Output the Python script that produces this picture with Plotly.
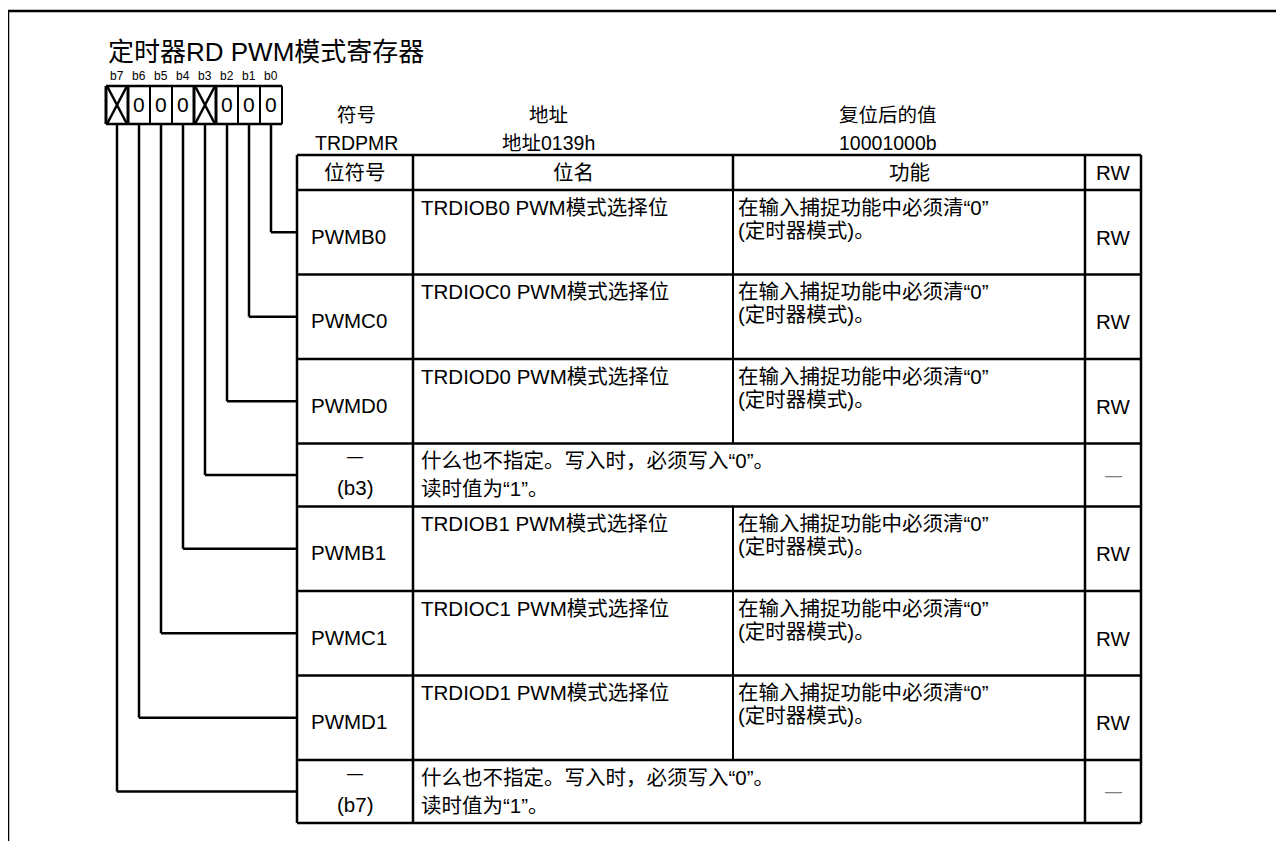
import plotly.graph_objects as go

# ---------------- data ----------------
title = "定时器RD PWM模式寄存器"
bit_labels = ["b7", "b6", "b5", "b4", "b3", "b2", "b1", "b0"]
bit_values = ["X", "0", "0", "0", "X", "0", "0", "0"]

symbol_label, symbol_value = "符号", "TRDPMR"
address_label, address_value = "地址", "地址0139h"
reset_label, reset_value = "复位后的值", "10001000b"

headers = ["位符号", "位名", "功能", "RW"]
row_bits = ["b0", "b1", "b2", "b3", "b4", "b5", "b6", "b7"]
row_symbols = ["PWMB0", "PWMC0", "PWMD0", "—", "PWMB1", "PWMC1", "PWMD1", "—"]
row_reserved = [False, False, False, True, False, False, False, True]
row_names = ["TRDIOB0 PWM模式选择位", "TRDIOC0 PWM模式选择位", "TRDIOD0 PWM模式选择位",
             "什么也不指定。写入时，必须写入“0”。", "TRDIOB1 PWM模式选择位",
             "TRDIOC1 PWM模式选择位", "TRDIOD1 PWM模式选择位",
             "什么也不指定。写入时，必须写入“0”。"]
row_functions = ["在输入捕捉功能中必须清“0”<br>(定时器模式)。"] * 3 + ["读时值为“1”。"] + \
                ["在输入捕捉功能中必须清“0”<br>(定时器模式)。"] * 3 + ["读时值为“1”。"]
row_rw = ["RW", "RW", "RW", "—", "RW", "RW", "RW", "—"]

# ---------------- layout constants ----------------
W, H = 1284, 841
OFF = 8  # page body margin
FONT = "Liberation Sans, Arial, Noto Sans CJK SC, sans-serif"
BLACK = "#000000"

box_x0, box_y0, box_y1, cell_w = 106, 86, 124, 22
col_x = [297, 413, 733, 1085, 1141]
table_top, header_bottom = 155, 190
normal_h, reserved_h = 84.5, 63
TS = 20.5

shapes = []
ann = []


def line(x0, y0, x1, y1, w=2, color=BLACK):
    shapes.append(dict(type="line", x0=x0, y0=y0, x1=x1, y1=y1,
                       line=dict(color=color, width=w), layer="above"))


def text(x, y, s, size=TS, xanchor="center", yanchor="middle", color=BLACK):
    ann.append(dict(x=x, y=y, text=s, showarrow=False, xanchor=xanchor, yanchor=yanchor,
                    align="left", font=dict(family=FONT, size=size, color=color)))


# outer frame
line(8, 11, 8, H + OFF, w=2.5)
line(8, 11, W + OFF, 11, w=2.5)

# title
text(106, 52, title, size=26, xanchor="left")

# bit box
n = len(bit_values)
for i, (lab, val) in enumerate(zip(bit_labels, bit_values)):
    cx = box_x0 + cell_w * i + cell_w / 2
    text(cx, 76, lab, size=12)
    x0 = box_x0 + cell_w * i
    if val == "X":
        line(x0 + 1, box_y0, x0 + cell_w - 1, box_y1, w=2.5)
        line(x0 + 1, box_y1, x0 + cell_w - 1, box_y0, w=2.5)
        line(x0, box_y0, x0, box_y1, w=3)
        line(x0 + cell_w, box_y0, x0 + cell_w, box_y1, w=3)
    else:
        text(cx, (box_y0 + box_y1) / 2 - 1, val, size=21)
        line(x0, box_y0, x0, box_y1, w=2)
line(box_x0, box_y0, box_x0 + cell_w * n, box_y0, w=2.5)
line(box_x0, box_y1, box_x0 + cell_w * n, box_y1, w=2.5)
line(box_x0 + cell_w * n, box_y0, box_x0 + cell_w * n, box_y1, w=2)

# register info
IS = 19.5
text(356, 115, symbol_label, size=IS)
text(356, 143, symbol_value, size=IS)
text(548, 115, address_label, size=IS)
text(548, 143, address_value, size=IS)
text(888, 115, reset_label, size=IS)
text(888, 143, reset_value, size=IS)

# table header
for j, h in enumerate(headers):
    text((col_x[j] + col_x[j + 1]) / 2, 172, h)

# rows
y = header_bottom
row_edges = [y]
for k in range(len(row_symbols)):
    rh = reserved_h if row_reserved[k] else normal_h
    top, bot = y, y + rh
    mid = (top + bot) / 2
    if row_reserved[k]:
        text(355, top + 13, row_symbols[k], size=16)
        text(355, top + 44, "(" + row_bits[k] + ")")
        text(col_x[1] + 6, top + 17, row_names[k], xanchor="left")
        text(col_x[1] + 6, top + 45, row_functions[k], xanchor="left")
        text((col_x[3] + col_x[4]) / 2, mid, row_rw[k], color="#7f7f7f", size=17)
    else:
        text(309, mid + 4, row_symbols[k], xanchor="left")
        text(col_x[1] + 6, top + 17, row_names[k], xanchor="left")
        for li, part in enumerate(row_functions[k].split("<br>")):
            text(col_x[2] + 3, top + 17 + 23 * li, part, xanchor="left")
        text((col_x[3] + col_x[4]) / 2, mid + 5, row_rw[k])
        line(col_x[2], top, col_x[2], bot)
    # leader line from bit box
    bit_index = bit_labels.index(row_bits[k])
    bx = box_x0 + cell_w * bit_index + cell_w / 2
    line(bx, box_y1, bx, mid, w=2.5)
    line(bx, mid, col_x[0], mid, w=2.5)
    y = bot
    row_edges.append(y)

table_bottom = y
# table grid
line(col_x[0], table_top, col_x[-1], table_top, w=2.5)
for e in row_edges:
    line(col_x[0], e, col_x[-1], e, w=2.5)
for j in [0, 1, 3, 4]:
    line(col_x[j], table_top, col_x[j], table_bottom, w=2.5)
line(col_x[2], table_top, col_x[2], header_bottom, w=2.5)

fig = go.Figure()
fig.update_layout(
    width=W, height=H, margin=dict(l=0, r=0, t=0, b=0),
    paper_bgcolor="white", plot_bgcolor="white",
    xaxis=dict(range=[OFF, W + OFF], visible=False, fixedrange=True),
    yaxis=dict(range=[H + OFF, OFF], visible=False, fixedrange=True),
    shapes=shapes, annotations=ann, showlegend=False,
)
fig.write_html("out.html")
